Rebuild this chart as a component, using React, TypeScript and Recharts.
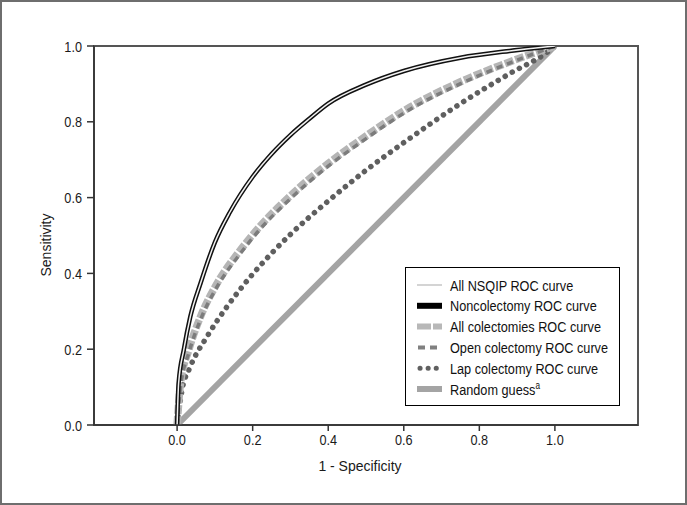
import React from 'react'
import {
  LineChart, Line, XAxis, YAxis, ReferenceArea, Legend, Label,
} from 'recharts'

// 1 - specificity / sensitivity pairs
const FPR_NSQIP = [0, 0.004, 0.018, 0.035, 0.062, 0.1, 0.14, 0.2, 0.25, 0.3, 0.35, 0.4, 0.5, 0.6, 0.75, 0.88, 1.0]
const TPR_NSQIP = [0, 0.11, 0.2, 0.286, 0.374, 0.482, 0.562, 0.655, 0.715, 0.765, 0.808, 0.848, 0.898, 0.934, 0.969, 0.987, 1.0]

const FPR_NONCOL = [0, 0.004, 0.018, 0.035, 0.062, 0.1, 0.14, 0.2, 0.25, 0.3, 0.35, 0.4, 0.5, 0.6, 0.75, 0.88, 1.0]
const TPR_NONCOL = [0, 0.11, 0.2, 0.286, 0.374, 0.482, 0.562, 0.655, 0.715, 0.765, 0.808, 0.848, 0.898, 0.934, 0.969, 0.987, 1.0]

const FPR_ALLCOL = [0, 0.009, 0.031, 0.062, 0.106, 0.167, 0.22, 0.3, 0.4, 0.485, 0.617, 0.749, 0.88, 1.0]
const TPR_ALLCOL = [0, 0.11, 0.198, 0.286, 0.374, 0.461, 0.525, 0.605, 0.69, 0.752, 0.839, 0.905, 0.958, 1.0]

const FPR_OPEN = [0, 0.009, 0.031, 0.062, 0.106, 0.167, 0.22, 0.3, 0.4, 0.485, 0.617, 0.749, 0.88, 1.0]
const TPR_OPEN = [0, 0.1, 0.19, 0.278, 0.365, 0.452, 0.517, 0.597, 0.683, 0.745, 0.833, 0.9, 0.955, 1.0]

const FPR_LAP = [0, 0.013, 0.035, 0.079, 0.132, 0.194, 0.25, 0.3, 0.4, 0.5, 0.6, 0.75, 0.88, 0.98, 1.0]
const TPR_LAP = [0, 0.092, 0.154, 0.233, 0.312, 0.391, 0.453, 0.503, 0.591, 0.672, 0.745, 0.848, 0.927, 0.984, 1.0]

const FPR_RANDOM = [0, 1]
const TPR_RANDOM = [0, 1]

const X_TICKS = [0, 0.2, 0.4, 0.6, 0.8, 1.0]
const Y_TICKS = [0, 0.2, 0.4, 0.6, 0.8, 1.0]

const toPoints = (xs: number[], ys: number[]) => xs.map((x, i) => ({ x, y: ys[i] }))

const SANS = '"Liberation Sans", Arial, sans-serif'
// no narrow face installed, so squeeze Liberation Sans horizontally
const NARROW_SCALE = 0.82

type Series = {
  name: string
  data: { x: number; y: number }[]
  stroke: string
  width: number
  dash?: string
  cap?: 'round' | 'butt'
}

const SERIES: Series[] = [
  { name: 'Random guess', data: toPoints(FPR_RANDOM, TPR_RANDOM), stroke: '#a4a4a4', width: 6 },
  { name: 'Lap colectomy ROC curve', data: toPoints(FPR_LAP, TPR_LAP), stroke: '#5f5f5f', width: 5.5, dash: '0.1 8', cap: 'round' },
  { name: 'All colectomies ROC curve', data: toPoints(FPR_ALLCOL, TPR_ALLCOL), stroke: '#b5b5b5', width: 7.5, dash: '9 2' },
  { name: 'Open colectomy ROC curve', data: toPoints(FPR_OPEN, TPR_OPEN), stroke: '#7c7c7c', width: 3.5, dash: '6 5' },
  { name: 'Noncolectomy ROC curve', data: toPoints(FPR_NONCOL, TPR_NONCOL), stroke: '#111111', width: 4.5 },
  { name: 'All NSQIP ROC curve', data: toPoints(FPR_NSQIP, TPR_NSQIP), stroke: '#f2f2f2', width: 1.5 },
]

const LEGEND_ROWS = [
  { label: 'All NSQIP ROC curve', icon: <line x1={0} x2={25} y1={0} y2={0} stroke="#d4d4d4" strokeWidth={2} /> },
  { label: 'Noncolectomy ROC curve', icon: <line x1={0} x2={25} y1={0} y2={0} stroke="#000" strokeWidth={6} /> },
  { label: 'All colectomies ROC curve', icon: <line x1={0} x2={25} y1={0} y2={0} stroke="#b8b8b8" strokeWidth={6} strokeDasharray="14 2" /> },
  { label: 'Open colectomy ROC curve', icon: <line x1={1} x2={25} y1={0} y2={0} stroke="#808080" strokeWidth={4} strokeDasharray="7 5" /> },
  { label: 'Lap colectomy ROC curve', icon: <line x1={3} x2={25} y1={0} y2={0} stroke="#606060" strokeWidth={5} strokeDasharray="0.1 8" strokeLinecap="round" /> },
  { label: 'Random guess', sup: 'a', icon: <line x1={0} x2={25} y1={0} y2={0} stroke="#a4a4a4" strokeWidth={6} /> },
]

function LegendBox() {
  return (
    <svg width={215} height={139} style={{ display: 'block' }}>
      <rect x={0.5} y={0.5} width={214} height={138} fill="#fff" stroke="#000" strokeWidth={1} />
      {LEGEND_ROWS.map((r, i) => {
        const cy = 18 + i * 20.8
        return (
          <g key={r.label}>
            <g transform={`translate(12, ${cy})`}>{r.icon}</g>
            <text transform={`translate(45, ${cy + 5.5}) scale(${NARROW_SCALE}, 1)`} fontFamily={SANS} fontSize={15.5} fill="#111">
              {r.label}
              {r.sup && <tspan fontSize={10} dy={-6}>{r.sup}</tspan>}
            </text>
          </g>
        )
      })}
    </svg>
  )
}

function XTick({ x, y, payload }: any) {
  return (
    <text transform={`translate(${x}, ${y}) scale(${NARROW_SCALE}, 1)`} textAnchor="middle" dy="0.71em"
      fontFamily={SANS} fontSize={15.5} fill="#1a1a1a">
      {Number(payload.value).toFixed(1)}
    </text>
  )
}

function YTick({ x, y, payload }: any) {
  return (
    <text transform={`translate(${x}, ${y}) scale(${NARROW_SCALE}, 1)`} textAnchor="end" dy="0.355em"
      fontFamily={SANS} fontSize={15.5} fill="#1a1a1a">
      {Number(payload.value).toFixed(1)}
    </text>
  )
}

export default function App() {
  return (
    <div style={{ position: 'absolute', left: 0, top: 0, width: 687, height: 505, background: '#fff' }}>
      <LineChart width={687} height={505} margin={{ top: 46, right: 49, bottom: 0, left: 40 }}>
        <XAxis
          type="number" dataKey="x" domain={[-0.22, 1.22]} ticks={X_TICKS} allowDataOverflow
          tick={<XTick />}
          axisLine={{ stroke: '#333', strokeWidth: 1.5 }} tickLine={{ stroke: '#333', strokeWidth: 1.5 }}
          tickSize={6} tickMargin={3} height={80}
        >
          <Label
            content={() => (
              <text x={360} y={471} textAnchor="middle" fontFamily={SANS} fontSize={14} fill="#1a1a1a">1 - Specificity</text>
            )}
          />
        </XAxis>
        <YAxis
          type="number" dataKey="y" domain={[0, 1]} ticks={Y_TICKS} allowDataOverflow
          tick={<YTick />}
          axisLine={{ stroke: '#333', strokeWidth: 1.5 }} tickLine={{ stroke: '#333', strokeWidth: 1.5 }}
          tickSize={7} tickMargin={5} width={54}
        >
          <Label
            content={() => (
              <text x={51} y={245} textAnchor="middle" transform="rotate(-90, 51, 245)" fontFamily={SANS} fontSize={14} fill="#1a1a1a">Sensitivity</text>
            )}
          />
        </YAxis>
        <ReferenceArea x1={-0.22} x2={1.22} y1={0} y2={1} fill="none" stroke="#555" strokeWidth={2} ifOverflow="visible" />
        {SERIES.map(s => (
          <Line
            key={s.name} data={s.data} dataKey="y" name={s.name} type="monotone"
            stroke={s.stroke} strokeWidth={s.width} strokeDasharray={s.dash}
            strokeLinecap={s.cap ?? 'butt'} dot={false} activeDot={false}
            isAnimationActive={false}
          />
        ))}
        <Legend
          layout="horizontal" verticalAlign="middle" align="center"
          wrapperStyle={{ position: 'absolute', left: 405, top: 267, width: 215, height: 139 }}
          content={() => <LegendBox />}
        />
      </LineChart>
      <div style={{ position: 'absolute', left: 0, top: 0, width: 687, height: 505, border: '2px solid #6e6e6e', boxSizing: 'border-box', pointerEvents: 'none' }} />
    </div>
  )
}
